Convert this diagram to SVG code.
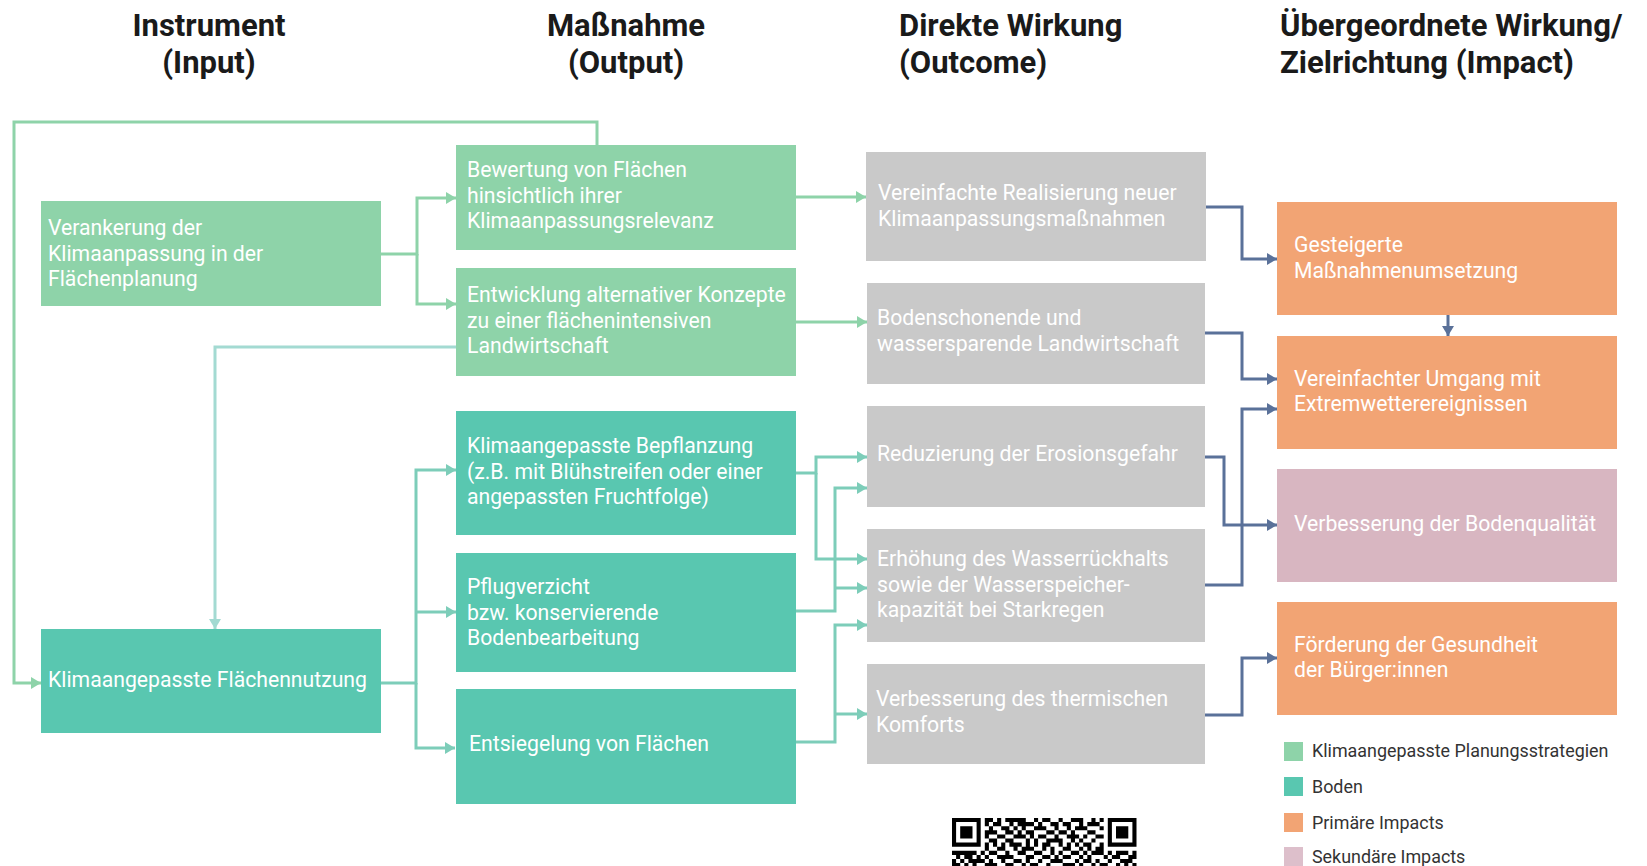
<svg xmlns="http://www.w3.org/2000/svg" width="1647" height="866" viewBox="0 0 1647 866">
<style>
.hd{font-family:Roboto,"Liberation Sans",sans-serif;font-weight:700;font-size:31px;fill:#1a1a1a}
.bt{font-family:Roboto,"Liberation Sans",sans-serif;font-size:21.2px;fill:#ffffff}
.lg{font-family:Roboto,"Liberation Sans",sans-serif;font-size:17.9px;fill:#333333}
.g{fill:#8ED3A9}.t{fill:#59C7B0}.y{fill:#C9C9C9}.o{fill:#F2A474}.p{fill:#D8B6C1}
.cg{fill:none;stroke:#8ED3A9;stroke-width:3;marker-end:url(#ag)}
.cl{fill:none;stroke:#A3DAD2;stroke-width:3;marker-end:url(#al)}
.ct{fill:none;stroke:#7DCDB9;stroke-width:3;marker-end:url(#at)}
.cb{fill:none;stroke:#5A7199;stroke-width:3;marker-end:url(#ab)}
</style>
<defs>
<marker id="ag" markerUnits="userSpaceOnUse" markerWidth="10" markerHeight="12" refX="10" refY="6" orient="auto"><path d="M0,0 L10,6 L0,12 z" fill="#8ED3A9"/></marker>
<marker id="al" markerUnits="userSpaceOnUse" markerWidth="10" markerHeight="12" refX="10" refY="6" orient="auto"><path d="M0,0 L10,6 L0,12 z" fill="#A3DAD2"/></marker>
<marker id="at" markerUnits="userSpaceOnUse" markerWidth="10" markerHeight="12" refX="10" refY="6" orient="auto"><path d="M0,0 L10,6 L0,12 z" fill="#7DCDB9"/></marker>
<marker id="ab" markerUnits="userSpaceOnUse" markerWidth="10" markerHeight="12" refX="10" refY="6" orient="auto"><path d="M0,0 L10,6 L0,12 z" fill="#5A7199"/></marker>
</defs>
<rect width="1647" height="866" fill="#ffffff"/>

<g id="headers">
<text class="hd" text-anchor="middle"><tspan x="209" y="36">Instrument</tspan><tspan x="209" y="73">(Input)</tspan></text>
<text class="hd" text-anchor="middle"><tspan x="626" y="36">Maßnahme</tspan><tspan x="626" y="73">(Output)</tspan></text>
<text class="hd"><tspan x="899" y="36">Direkte Wirkung</tspan><tspan x="899" y="73">(Outcome)</tspan></text>
<text class="hd"><tspan x="1280" y="36">Übergeordnete Wirkung/</tspan><tspan x="1280" y="73">Zielrichtung (Impact)</tspan></text>
</g>

<g id="connectors">
<path class="cg" d="M597,145 V122 H14 V683 H41"/>
<path class="cg" d="M381,254 H417 V198 H456"/>
<path class="cg" d="M417,254 V304 H456"/>
<path class="cg" d="M796,197 H866"/>
<path class="cg" d="M796,322 H867"/>
<path class="cl" d="M456,347 H215 V629"/>
<path class="ct" d="M381,683 H416 V470 H456"/>
<path class="ct" d="M416,612 H456"/>
<path class="ct" d="M416,683 V748 H455"/>
<path class="ct" d="M796,473 H816 V457 H867"/>
<path class="ct" d="M816,473 V559 H867"/>
<path class="ct" d="M796,611 H835 V488 H867"/>
<path class="ct" d="M835,588 H867"/>
<path class="ct" d="M796,742 H835 V625 H867"/>
<path class="ct" d="M835,714 H867"/>
<path class="cb" d="M1206,207 H1242 V259 H1277"/>
<path class="cb" d="M1205,333 H1242 V379 H1277"/>
<path class="cb" d="M1205,457 H1224 V525 H1277"/>
<path class="cb" d="M1205,585 H1242 V409 H1277"/>
<path class="cb" d="M1205,715 H1242 V658 H1277"/>
<path class="cb" d="M1448,315 V336"/>
</g>

<g id="n-verankerung"><rect class="g" x="41" y="201" width="340" height="105"/>
<text class="bt"><tspan x="48" y="235">Verankerung der</tspan><tspan x="48" y="261">Klimaanpassung in der</tspan><tspan x="48" y="286">Flächenplanung</tspan></text></g>
<g id="n-flaechennutzung"><rect class="t" x="41" y="629" width="340" height="104"/>
<text class="bt" x="48" y="687">Klimaangepasste Flächennutzung</text></g>

<g id="n-bewertung"><rect class="g" x="456" y="145" width="340" height="105"/>
<text class="bt"><tspan x="467" y="177">Bewertung von Flächen</tspan><tspan x="467" y="203">hinsichtlich ihrer</tspan><tspan x="467" y="228">Klimaanpassungsrelevanz</tspan></text></g>
<g id="n-entwicklung"><rect class="g" x="456" y="268" width="340" height="108"/>
<text class="bt"><tspan x="467" y="302">Entwicklung alternativer Konzepte</tspan><tspan x="467" y="328">zu einer flächenintensiven</tspan><tspan x="467" y="353">Landwirtschaft</tspan></text></g>
<g id="n-bepflanzung"><rect class="t" x="456" y="411" width="340" height="124"/>
<text class="bt"><tspan x="467" y="453">Klimaangepasste Bepflanzung</tspan><tspan x="467" y="479">(z.B. mit Blühstreifen oder einer</tspan><tspan x="467" y="504">angepassten Fruchtfolge)</tspan></text></g>
<g id="n-pflugverzicht"><rect class="t" x="456" y="553" width="340" height="119"/>
<text class="bt"><tspan x="467" y="594">Pflugverzicht</tspan><tspan x="467" y="620">bzw. konservierende</tspan><tspan x="467" y="645">Bodenbearbeitung</tspan></text></g>
<g id="n-entsiegelung"><rect class="t" x="456" y="689" width="340" height="115"/>
<text class="bt" x="469" y="751">Entsiegelung von Flächen</text></g>

<g id="n-vereinfachte"><rect class="y" x="866" y="152" width="340" height="109"/>
<text class="bt"><tspan x="878" y="200">Vereinfachte Realisierung neuer</tspan><tspan x="878" y="226">Klimaanpassungsmaßnahmen</tspan></text></g>
<g id="n-bodenschonende"><rect class="y" x="867" y="283" width="338" height="101"/>
<text class="bt"><tspan x="877" y="325">Bodenschonende und</tspan><tspan x="877" y="351">wassersparende Landwirtschaft</tspan></text></g>
<g id="n-reduzierung"><rect class="y" x="867" y="406" width="338" height="101"/>
<text class="bt" x="877" y="461">Reduzierung der Erosionsgefahr</text></g>
<g id="n-erhoehung"><rect class="y" x="867" y="529" width="338" height="113"/>
<text class="bt"><tspan x="877" y="566">Erhöhung des Wasserrückhalts</tspan><tspan x="877" y="592">sowie der Wasserspeicher-</tspan><tspan x="877" y="617">kapazität bei Starkregen</tspan></text></g>
<g id="n-thermisch"><rect class="y" x="867" y="664" width="338" height="100"/>
<text class="bt"><tspan x="876" y="706">Verbesserung des thermischen</tspan><tspan x="876" y="732">Komforts</tspan></text></g>

<g id="n-gesteigerte"><rect class="o" x="1277" y="202" width="340" height="113"/>
<text class="bt"><tspan x="1294" y="252">Gesteigerte</tspan><tspan x="1294" y="278">Maßnahmenumsetzung</tspan></text></g>
<g id="n-extremwetter"><rect class="o" x="1277" y="336" width="340" height="113"/>
<text class="bt"><tspan x="1294" y="386">Vereinfachter Umgang mit</tspan><tspan x="1294" y="411">Extremwetterereignissen</tspan></text></g>
<g id="n-bodenqualitaet"><rect class="p" x="1277" y="469" width="340" height="113"/>
<text class="bt" x="1294" y="531">Verbesserung der Bodenqualität</text></g>
<g id="n-gesundheit"><rect class="o" x="1277" y="602" width="340" height="113"/>
<text class="bt"><tspan x="1294" y="652">Förderung der Gesundheit</tspan><tspan x="1294" y="677">der Bürger:innen</tspan></text></g>

<g id="legend">
<rect x="1284" y="742" width="19" height="19" fill="#8ED3A9"/>
<text class="lg" x="1312" y="757">Klimaangepasste Planungsstrategien</text>
<rect x="1284" y="777" width="19" height="19" fill="#59C7B0"/>
<text class="lg" x="1312" y="793">Boden</text>
<rect x="1284" y="813" width="19" height="19" fill="#F2A474"/>
<text class="lg" x="1312" y="829">Primäre Impacts</text>
<rect x="1284" y="847" width="19" height="19" fill="#DDBFCB"/>
<text class="lg" x="1312" y="863">Sekundäre Impacts</text>
</g>

<g id="qr" transform="translate(952,818) scale(4.1)" fill="#000000">
<path fill-rule="evenodd" d="M0 0h7v7h-7z M1 1v5h5v-5z M2 2h3v3h-3z M38 0h7v7h-7z M39 1v5h5v-5z M40 2h3v3h-3z"/>
<path d="M8 0h2v1h-2z M11 0h1v1h-1z M13 0h5v1h-5z M20 0h1v1h-1z M22 0h2v1h-2z M26 0h1v1h-1z M29 0h3v1h-3z M34 0h1v1h-1z M36 0h1v1h-1z
M8 1h1v1h-1z M10 1h2v1h-2z M14 1h1v1h-1z M16 1h4v1h-4z M21 1h1v1h-1z M24 1h2v1h-2z M27 1h2v1h-2z M31 1h1v1h-1z M33 1h3v1h-3z
M9 2h1v1h-1z M12 2h2v1h-2z M15 2h1v1h-1z M17 2h1v1h-1z M20 2h3v1h-3z M25 2h1v1h-1z M28 2h1v1h-1z M30 2h3v1h-3z M36 2h1v1h-1z
M8 3h3v1h-3z M13 3h2v1h-2z M16 3h1v1h-1z M18 3h2v1h-2z M23 3h2v1h-2z M26 3h2v1h-2z M29 3h1v1h-1z M33 3h2v1h-2z
M8 4h1v1h-1z M11 4h2v1h-2z M15 4h3v1h-3z M19 4h1v1h-1z M21 4h2v1h-2z M25 4h1v1h-1z M28 4h3v1h-3z M32 4h1v1h-1z M35 4h2v1h-2z
M9 5h2v1h-2z M13 5h2v1h-2z M18 5h1v1h-1z M20 5h1v1h-1z M23 5h4v1h-4z M29 5h1v1h-1z M31 5h1v1h-1z M34 5h1v1h-1z
M8 6h1v1h-1z M10 6h1v1h-1z M12 6h1v1h-1z M14 6h3v1h-3z M18 6h1v1h-1z M20 6h1v1h-1z M22 6h2v1h-2z M26 6h1v1h-1z M28 6h1v1h-1z M30 6h1v1h-1z M32 6h2v1h-2z M36 6h1v1h-1z
M8 7h1v1h-1z M11 7h2v1h-2z M15 7h1v1h-1z M17 7h3v1h-3z M22 7h1v1h-1z M24 7h1v1h-1z M27 7h2v1h-2z M31 7h1v1h-1z M33 7h1v1h-1z M35 7h2v1h-2z
M0 8h6v1h-6z M7 8h1v1h-1z M9 8h2v1h-2z M13 8h1v1h-1z M16 8h2v1h-2z M20 8h2v1h-2z M24 8h1v1h-1z M26 8h1v1h-1z M29 8h2v1h-2z M32 8h1v1h-1z M34 8h3v1h-3z M38 8h1v1h-1z M40 8h3v1h-3z M44 8h1v1h-1z
M1 9h1v1h-1z M3 9h2v1h-2z M6 9h1v1h-1z M8 9h1v1h-1z M11 9h4v1h-4z M18 9h2v1h-2z M22 9h2v1h-2z M25 9h1v1h-1z M27 9h2v1h-2z M31 9h1v1h-1z M33 9h1v1h-1z M37 9h1v1h-1z M39 9h2v1h-2z M43 9h2v1h-2z
M0 10h1v1h-1z M2 10h1v1h-1z M4 10h4v1h-4z M9 10h1v1h-1z M12 10h1v1h-1z M15 10h2v1h-2z M18 10h1v1h-1z M21 10h1v1h-1z M24 10h3v1h-3z M30 10h1v1h-1z M32 10h2v1h-2z M35 10h1v1h-1z M38 10h1v1h-1z M41 10h3v1h-3z
M0 11h2v1h-2z M3 11h1v1h-1z M5 11h1v1h-1z M8 11h3v1h-3z M13 11h2v1h-2z M17 11h1v1h-1z M19 11h2v1h-2z M23 11h1v1h-1z M27 11h3v1h-3z M31 11h1v1h-1z M34 11h1v1h-1z M36 11h2v1h-2z M40 11h1v1h-1z M42 11h1v1h-1z M44 11h1v1h-1z"/>
</g>
</svg>
